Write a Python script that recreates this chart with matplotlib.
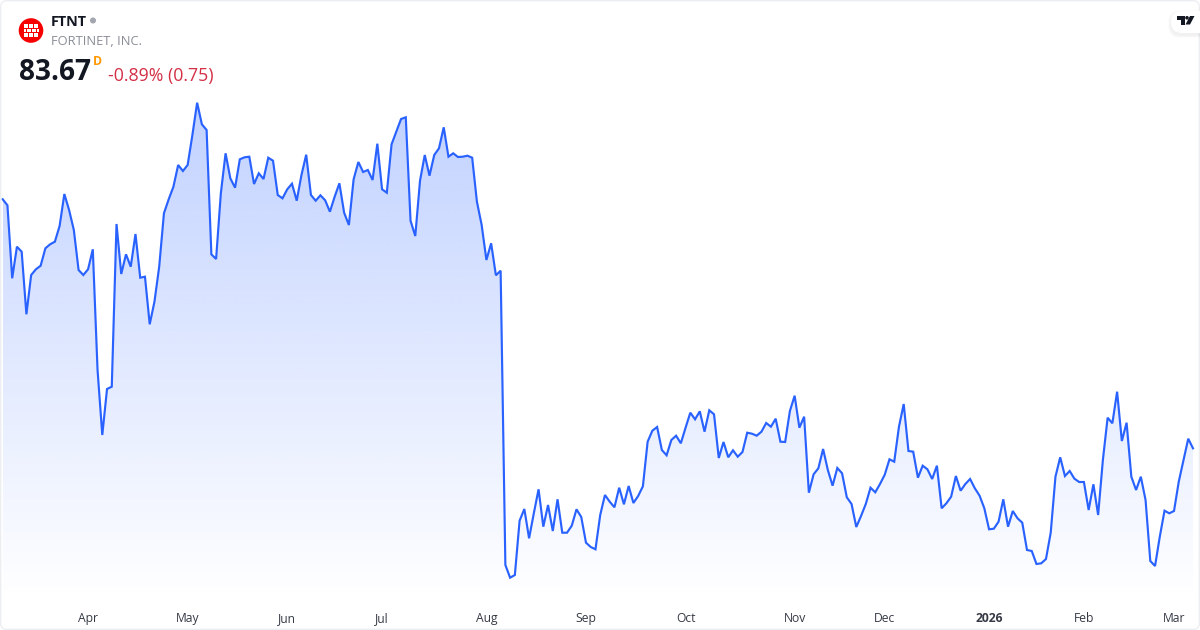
import matplotlib
matplotlib.use("Agg")
import matplotlib.pyplot as plt
from matplotlib.patches import Circle, FancyBboxPatch, Polygon, Rectangle
import numpy as np

plt.rcParams['font.family'] = ['Open Sans', 'DejaVu Sans']

symbol = "FTNT"
company = "FORTINET, INC."
last_price = "83.67"
change_text = "-0.89% (0.75)"

prices = [
    108.57, 107.97, 100.67, 103.83, 103.33, 97.07, 101.00, 101.57, 101.93, 103.67,
    104.07, 104.33, 105.90, 109.10, 107.50, 105.50, 101.50, 101.00, 101.57, 103.57,
    91.50, 85.00, 89.60, 89.83, 106.10, 101.10, 103.07, 101.83, 105.10, 100.73,
    100.83, 96.07, 98.33, 101.83, 107.17, 108.57, 109.83, 112.00, 111.40, 112.00,
    115.00, 118.23, 116.07, 115.50, 103.07, 102.60, 109.17, 113.17, 110.67, 109.73,
    112.57, 112.77, 112.83, 110.10, 111.17, 110.60, 112.73, 112.43, 109.00, 108.67,
    109.57, 110.13, 108.43, 111.00, 113.03, 109.00, 108.43, 108.97, 108.47, 107.33,
    108.83, 110.17, 107.23, 106.00, 110.57, 112.30, 111.30, 111.50, 110.50, 114.13,
    109.57, 109.23, 114.07, 115.33, 116.60, 116.77, 106.43, 104.90, 110.43, 113.00,
    110.93, 113.00, 113.67, 115.77, 112.83, 113.17, 112.80, 112.83, 112.93, 112.73,
    108.33, 106.00, 102.50, 104.17, 100.97, 101.43, 72.00, 70.73, 71.00, 76.43,
    77.60, 74.67, 77.17, 79.57, 75.83, 78.00, 75.40, 78.57, 75.23, 75.23,
    75.93, 77.57, 76.80, 74.23, 73.80, 73.57, 77.00, 79.00, 78.33, 77.77,
    79.73, 78.07, 79.90, 78.20, 78.90, 79.87, 84.33, 85.43, 85.80, 83.50,
    82.97, 84.50, 84.93, 84.17, 85.73, 87.23, 86.57, 87.37, 85.33, 87.47,
    87.07, 82.70, 84.30, 82.77, 83.47, 82.83, 83.30, 85.23, 85.13, 84.93,
    85.33, 86.20, 85.83, 86.63, 84.33, 84.30, 87.40, 88.93, 85.73, 86.83,
    79.23, 81.07, 81.67, 83.60, 81.50, 79.93, 81.70, 81.17, 78.77, 78.10,
    75.80, 76.90, 78.10, 79.73, 79.27, 80.10, 81.03, 82.57, 82.33, 85.83,
    88.10, 83.40, 83.33, 80.73, 81.93, 81.57, 80.60, 81.93, 77.67, 78.17,
    78.83, 80.90, 79.43, 80.10, 80.60, 79.67, 78.93, 77.67, 75.57, 75.63,
    76.33, 78.57, 75.83, 77.40, 76.67, 76.23, 73.50, 73.40, 72.10, 72.17,
    72.60, 75.23, 80.83, 82.77, 80.90, 81.40, 80.63, 80.30, 80.30, 77.50,
    80.07, 77.00, 82.50, 86.73, 86.17, 89.33, 84.40, 86.23, 80.83, 79.50,
    80.83, 78.50, 72.40, 71.90, 74.83, 77.43, 77.17, 77.40, 80.33, 82.50,
    84.63, 83.67,
]
month_positions = [18, 39, 60, 80, 102, 123, 144, 167, 186, 208, 228, 247]
month_labels = ["Apr", "May", "Jun", "Jul", "Aug", "Sep", "Oct", "Nov", "Dec", "2026", "Feb", "Mar"]

days = np.arange(len(prices))
line_color = "#2962FF"

fig = plt.figure(figsize=(12, 6.3), dpi=100, facecolor="white")
ax = fig.add_axes([0, 30 / 630, 1, 600 / 630])
x0, x1 = -0.57, 252.48
y0, y1 = 68.5, 128.5

# area under the line, gradient clipped to the price polygon
shade = np.zeros((256, 2, 4))
shade[:, :, :3] = matplotlib.colors.to_rgb(line_color)
shade[:, :, 3] = np.linspace(0.29, 0.0, 256)[:, None]
area = ax.fill_between(days, prices, y0, facecolor="none", edgecolor="none")
grad = ax.imshow(shade, extent=[days[0], days[-1], y0, max(prices)], origin="upper",
                 aspect="auto", interpolation="bilinear", zorder=1)
grad.set_clip_path(area.get_paths()[0], transform=ax.transData)

ax.plot(days, prices, color=line_color, lw=1.55, solid_joinstyle="miter", zorder=2)

ax.set_xlim(x0, x1)
ax.set_ylim(y0, y1)
for s in ax.spines.values():
    s.set_visible(False)
ax.set_yticks([])
ax.set_xticks(month_positions)
ax.set_xticklabels(month_labels, fontsize=8.7, color="#363a45")
ax.tick_params(axis="x", length=0, pad=8.5)
ax.get_xticklabels()[month_labels.index("2026")].set_fontweight("bold")
ax.patch.set_alpha(0)

# header and card furniture, in pixel coordinates
top = fig.add_axes([0, 0, 1, 1])
top.set_xlim(0, 1200)
top.set_ylim(630, 0)
top.axis("off")
top.add_patch(FancyBboxPatch((0.7, 0.7), 1198.6, 628.6, boxstyle="round,pad=0,rounding_size=6",
                             facecolor="none", edgecolor="#ECEEF2", lw=1.0))

top.add_patch(Circle((31, 30.5), 12.3, color="#F60000", lw=0))
for py, cells in [(24.3, [(24, 4.4), (29, 4.4), (34, 4.0)]),
                  (28.8, [(23.5, 2.5), (26.6, 4.4), (31.6, 4.4), (36.6, 2.2)]),
                  (33.3, [(24, 4.4), (29, 4.4), (34, 4.0)])]:
    for px, w in cells:
        top.add_patch(Rectangle((px, py), w, 3.6, color="white", lw=0))

top.text(51, 21.5, symbol, fontsize=10.4, fontweight="bold", color="#131722", va="center")
top.add_patch(Circle((93, 20.5), 3, color="#A3A6AF", lw=0))
top.text(51, 41.5, company, fontsize=9.25, color="#8a8d96", va="center")
top.text(19, 72.5, last_price, fontsize=20.2, fontweight="bold", color="#131722", va="center")
top.text(93, 61.5, "D", fontsize=8.8, fontweight="bold", color="#FF9800", va="center")
top.text(108, 75.5, change_text, fontsize=12.75, color="#D32F45", va="center")

# TradingView badge
for r, a in [(3, 0.012), (2, 0.018), (1, 0.025)]:
    top.add_patch(FancyBboxPatch((1171 - r, 11 - r + 2), 40 + 2 * r, 22 + 2 * r,
                                 boxstyle="round,pad=0,rounding_size=11",
                                 facecolor="black", edgecolor="none", alpha=a))
top.add_patch(FancyBboxPatch((1171, 11), 40, 22, boxstyle="round,pad=0,rounding_size=11",
                             facecolor="white", edgecolor="none"))
top.add_patch(Polygon([(1177, 16), (1184.5, 16), (1184.5, 24.5), (1181, 24.5), (1181, 19.5), (1177, 19.5)],
                      facecolor="#131722", edgecolor="none"))
top.add_patch(Circle((1187, 17.8), 1.8, color="#131722", lw=0))
top.add_patch(Polygon([(1190, 16), (1194.5, 16), (1190, 24.5), (1185.5, 24.5)],
                      facecolor="#131722", edgecolor="none"))

fig.savefig("out.png", dpi=100)
plt.close()
